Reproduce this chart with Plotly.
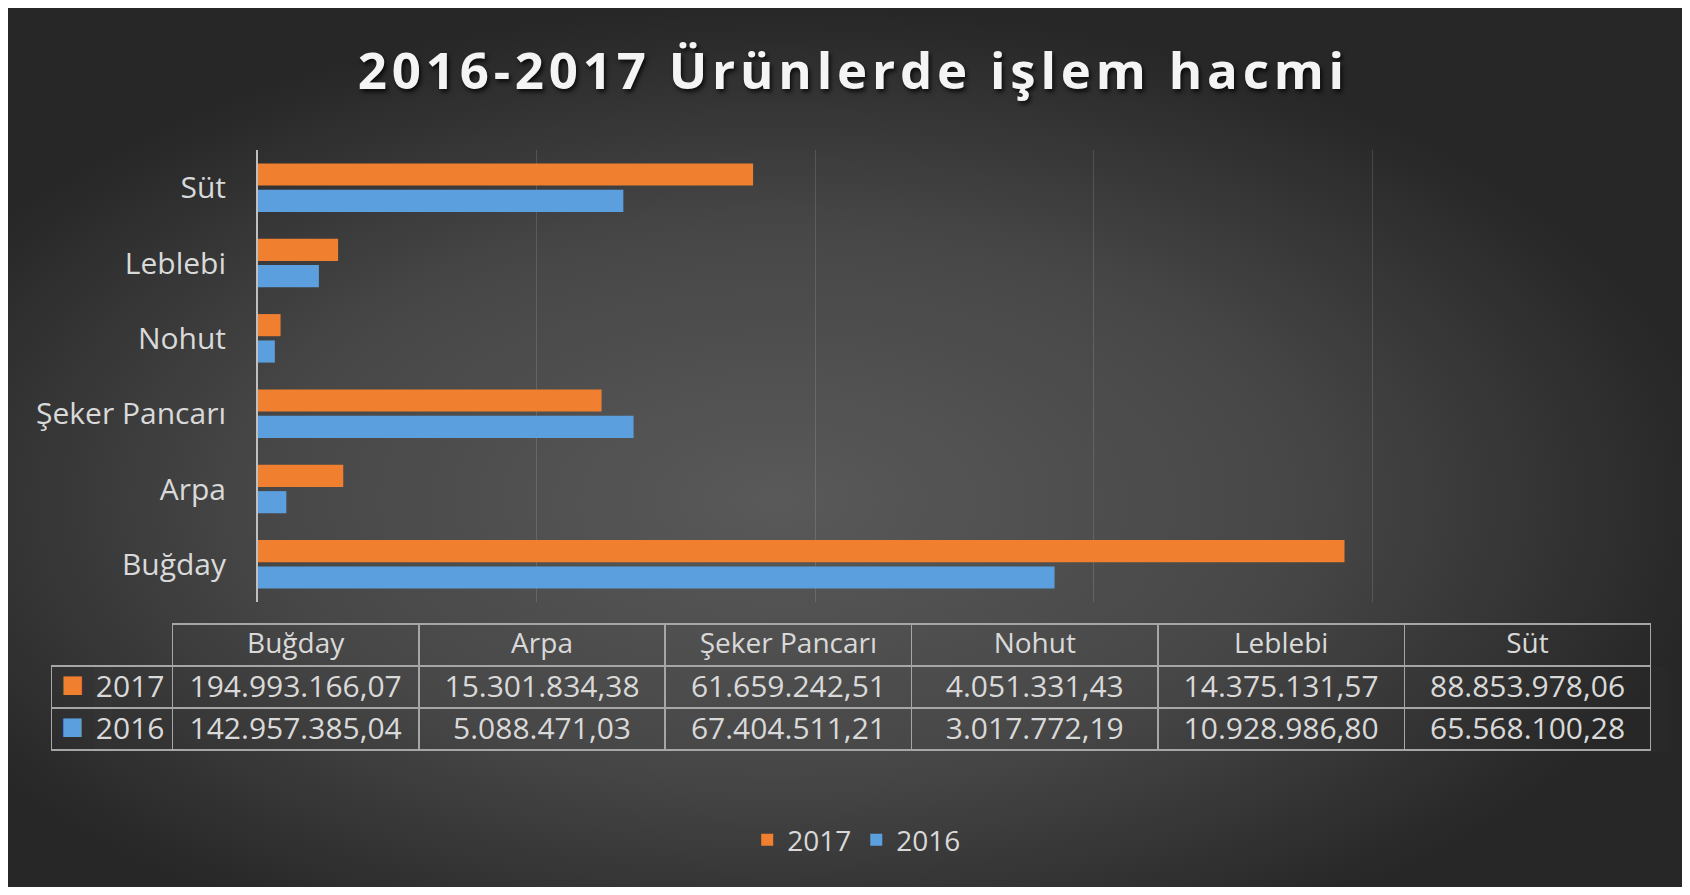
import base64
import plotly.graph_objects as go

# ---------------- data ----------------
categories = ["Buğday", "Arpa", "Şeker Pancarı", "Nohut", "Leblebi", "Süt"]
values_2017 = [194993166.07, 15301834.38, 61659242.51, 4051331.43, 14375131.57, 88853978.06]
values_2016 = [142957385.04, 5088471.03, 67404511.21, 3017772.19, 10928986.80, 65568100.28]
series_names = ["2017", "2016"]
title_text = "2016-2017 Ürünlerde işlem hacmi"

# ---------------- style ----------------
W, H = 1674, 879
ORANGE = "#F0802F"
BLUE = "#5B9FDE"
TXT = "#d9d9d9"
FONT = "Open Sans"
LINE = "#a6a6a6"
CLEAR = "rgba(0,0,0,0)"


def tr_fmt(v):
    s = f"{v:,.2f}"
    return s.replace(",", "X").replace(".", ",").replace("X", ".")


# radial gradient background as svg image
svg = (
    f'<svg xmlns="http://www.w3.org/2000/svg" width="{W}" height="{H}">'
    '<defs><radialGradient id="g" cx="0.46" cy="0.56" r="0.56">'
    '<stop offset="0" stop-color="#595959"/>'
    '<stop offset="0.55" stop-color="#474747"/>'
    '<stop offset="1" stop-color="#272727"/>'
    '</radialGradient></defs>'
    f'<rect x="0" y="0" width="{W}" height="{H}" fill="url(#g)"/></svg>'
)
bg_src = "data:image/svg+xml;base64," + base64.b64encode(svg.encode("utf-8")).decode("ascii")

fig = go.Figure()

fig.add_trace(go.Bar(
    y=categories, x=values_2016, name=series_names[1], orientation="h",
    marker=dict(color=BLUE, line=dict(width=0)),
))
fig.add_trace(go.Bar(
    y=categories, x=values_2017, name=series_names[0], orientation="h",
    marker=dict(color=ORANGE, line=dict(width=0)),
))

# ---- data table ----
cell_cols = [series_names] + [[tr_fmt(a), tr_fmt(b)] for a, b in zip(values_2017, values_2016)]
header_vals = [""] + categories
TAB_X0, TAB_X1 = 43.7, 1643
TAB_Y0, TAB_Y1 = 616, 745

fig.add_trace(go.Table(
    domain=dict(x=[TAB_X0 / W, TAB_X1 / W], y=[1 - TAB_Y1 / H, 1 - TAB_Y0 / H]),
    columnwidth=[120.8] + [246.4] * len(categories),
    header=dict(
        values=header_vals,
        fill=dict(color=CLEAR),
        line=dict(color=[CLEAR] + [LINE] * len(categories), width=1.5),
        font=dict(family=FONT, size=28, color=TXT),
        align="center",
        height=42,
    ),
    cells=dict(
        values=cell_cols,
        fill=dict(color=CLEAR),
        line=dict(color=LINE, width=1.5),
        font=dict(family=FONT, size=30, color=TXT),
        align=["right"] + ["center"] * len(categories),
        height=42,
    ),
))

# legend keys inside the table's first column (second, borderless table)
fig.add_trace(go.Table(
    domain=dict(x=[TAB_X0 / W, 86 / W], y=[1 - TAB_Y1 / H, 1 - TAB_Y0 / H]),
    header=dict(values=[""], fill=dict(color=CLEAR), line=dict(color=CLEAR),
                font=dict(family=FONT, size=28, color=TXT), height=42),
    cells=dict(
        values=[["■", "■"]],
        fill=dict(color=CLEAR),
        line=dict(color=CLEAR),
        font=dict(family="DejaVu Sans", size=24, color=[[ORANGE, BLUE]]),
        align="center",
        height=42,
    ),
))

fig.update_layout(
    width=W, height=H,
    margin=dict(l=0, r=0, t=0, b=0),
    paper_bgcolor="#333333",
    plot_bgcolor="rgba(0,0,0,0)",
    barmode="group",
    bargap=0.30,
    bargroupgap=0.16,
    font=dict(family=FONT, color=TXT),
    title=dict(
        text=f'<span style="letter-spacing:4.8px">{title_text}</span>',
        x=0.505, xanchor="center", xref="paper",
        y=1 - 63 / H, yanchor="middle", yref="container",
        font=dict(family=FONT, size=51, color="#f4f4f4", weight="bold",
                  shadow="2px 3px 4px rgba(0,0,0,0.75)"),
    ),
    xaxis=dict(
        domain=[250 / W, 1643 / W],
        range=[0, 250e6], dtick=50e6,
        showticklabels=False, zeroline=False,
        showgrid=True, gridcolor="rgba(255,255,255,0.13)", gridwidth=1,
        showline=False, fixedrange=True,
    ),
    yaxis=dict(
        domain=[1 - 594 / H, 1 - 142 / H],
        type="category",
        showgrid=False, zeroline=False,
        showline=True, linecolor="#bfbfbf", linewidth=2,
        ticks="outside", ticklen=24, tickcolor="rgba(0,0,0,0)",
        tickfont=dict(family=FONT, size=30, color=TXT),
        fixedrange=True,
    ),
    legend=dict(
        orientation="h", traceorder="reversed",
        x=0.507, xanchor="center", y=1 - 832 / H, yanchor="middle",
        font=dict(family=FONT, size=28, color=TXT),
        bgcolor="rgba(0,0,0,0)",
    ),
    images=[dict(
        source=bg_src, xref="paper", yref="paper", x=0, y=1, sizex=1, sizey=1,
        xanchor="left", yanchor="top", sizing="stretch", layer="below",
    )],
)

fig.write_html("out.html")
